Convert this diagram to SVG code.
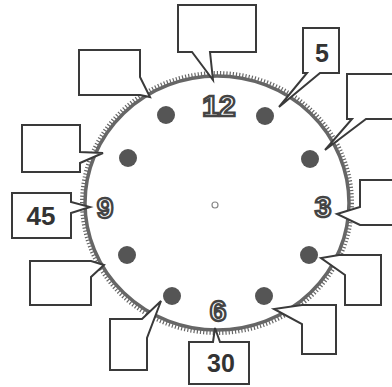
<svg xmlns="http://www.w3.org/2000/svg" width="392" height="387" viewBox="0 0 392 387">
<style>
.box{fill:#fff;stroke:#3a3a3a;stroke-width:2;stroke-linejoin:miter}
.dot{fill:#555}
.num{font-family:"Liberation Sans",Arial,sans-serif;font-weight:bold;fill:#fff;stroke:#444;stroke-width:2.4;text-anchor:middle}
.lbl{font-family:"Liberation Sans",Arial,sans-serif;font-weight:bold;fill:#333;text-anchor:middle}
</style>
<rect width="392" height="387" fill="#fff"/>
<g id="clock">
<ellipse cx="217" cy="203" rx="135" ry="130" fill="none" stroke="#666" stroke-width="4" stroke-dasharray="1.2 2"/>
<ellipse cx="217" cy="203" rx="132" ry="127" fill="none" stroke="#666" stroke-width="3.5"/>
<circle cx="215" cy="205" r="3" fill="#fff" stroke="#888" stroke-width="1.2"/>
</g>
<g id="dots">
<circle class="dot" cx="166" cy="115" r="9"/>
<circle class="dot" cx="128" cy="158" r="9"/>
<circle class="dot" cx="265" cy="116" r="9"/>
<circle class="dot" cx="310" cy="159" r="9"/>
<circle class="dot" cx="309" cy="255" r="9"/>
<circle class="dot" cx="264" cy="296" r="9"/>
<circle class="dot" cx="127" cy="255" r="9"/>
<circle class="dot" cx="172" cy="296" r="9"/>
</g>
<g id="numbers">
<text class="num" x="219" y="116" font-size="30">12</text>
<text class="num" x="323" y="217" font-size="30">3</text>
<text class="num" x="218" y="321" font-size="30">6</text>
<text class="num" x="105" y="218" font-size="30">9</text>
</g>
<g id="connectors">
<g id="b0"><path class="box" d="M178 5 H256 V52 H210 L213 80 L192 52 H178 Z"/></g>
<g id="b5"><path class="box" d="M303 28 H339 V73 H320 L279 107 L307 73 H303 Z"/><text class="lbl" x="322" y="62" font-size="25">5</text></g>
<g id="b10"><path class="box" d="M347 74 H396 V119 H366 L325 150 L352 119 H347 Z"/></g>
<g id="b15"><path class="box" d="M360 180 H396 V225 H360 L337 214 L360 207 Z"/></g>
<g id="b20"><path class="box" d="M339 255 H381 V305 H345 V275 L321 258 Z"/></g>
<g id="b25"><path class="box" d="M302 305 H336 V354 H302 V324 L274 309 Z"/></g>
<g id="b30"><path class="box" d="M189 342 H213 L215 328 L220 342 H249 V384 H189 Z"/><text class="lbl" x="221" y="372" font-size="25">30</text></g>
<g id="b35"><path class="box" d="M110 319 H142 L161 301 L147 338 V370 H110 Z"/></g>
<g id="b40"><path class="box" d="M30 261 H91 L104 265 L91 277 V305 H30 Z"/></g>
<g id="b45"><path class="box" d="M12 193 H71 V202 L90 207 L71 213 V238 H12 Z"/><text class="lbl" x="41" y="225" font-size="26">45</text></g>
<g id="b50"><path class="box" d="M22 125 H80 V152 L103 153 L80 163 V172 H22 Z"/></g>
<g id="b55"><path class="box" d="M79 50 H140 V77 L150 97 L140 95 H79 Z"/></g>
</g>
</svg>
